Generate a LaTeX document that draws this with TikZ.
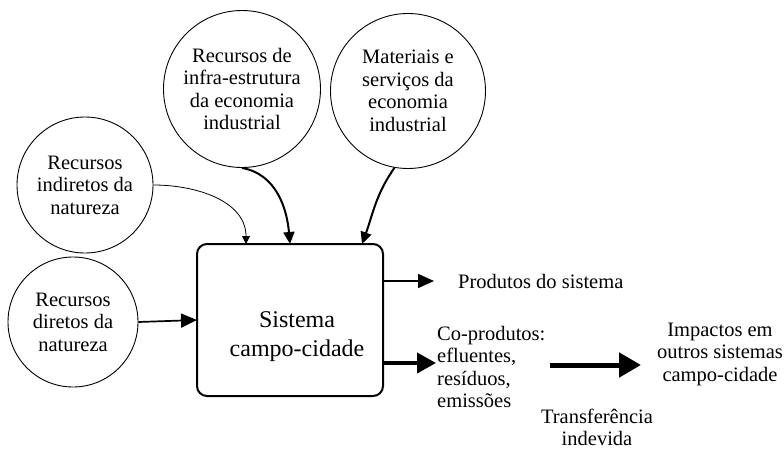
\documentclass[tikz,border=0pt]{standalone}
\usepackage{fontspec}
\setmainfont{Liberation Serif}
\usetikzlibrary{arrows.meta}
\begin{document}
\begin{tikzpicture}[x=1pt,y=-1pt,
  txt/.style={font=\fontsize{20.5}{22.5}\selectfont, align=center, inner sep=0pt},
  res/.style={circle, draw, line width=0.9pt, txt},
  thinarr/.style={line width=0.8pt, -{Triangle[length=8pt,width=8pt]}},
  medarr/.style={line width=2pt, -{Triangle[length=12pt,width=11pt]}},
  outarr/.style={line width=1.7pt, -{Triangle[length=16pt,width=14pt]}},
  heavyarr/.style={line width=4pt, -{Triangle[length=19pt,width=20pt]}},
  hugearr/.style={line width=5pt, -{Triangle[length=22pt,width=24pt]}}]
\useasboundingbox (0,0) rectangle (784,450);
\node[res, minimum size=157pt] (c1) at (242,89) {Recursos de\\infra-estrutura\\da economia\\industrial};
\node[res, minimum size=155pt] (c2) at (408,91) {Materiais e\\serviços da\\economia\\industrial};
\node[res, minimum size=136pt] (c3) at (85,185) {Recursos\\indiretos da\\natureza};
\node[res, minimum size=130pt] (c4) at (73,322) {Recursos\\diretos da\\natureza};
\node[draw, line width=2pt, rounded corners=10pt, minimum width=186pt, minimum height=152pt, inner sep=0pt] (sys) at (290,320) {};
\node[font=\fontsize{24}{29}\selectfont, align=center, inner sep=0pt] (syst) at (297,337) {Sistema\\campo-cidade};
\coordinate (in1) at (246,244);
\coordinate (in2) at (290,244);
\coordinate (in3) at (362,244);
\coordinate (in4) at (197,320);
\draw[thinarr] (c3.east) to[out=0,in=90] (in1);
\draw[medarr] (c1.south) to[out=-10,in=95] (in2);
\draw[medarr] (c2.-100) to[out=-125,in=70] (in3);
\draw[outarr] (c4.east) -- (in4);
\node[txt, anchor=west] (prod) at (458,281) {Produtos do sistema};
\node[txt, anchor=west, align=left] (cop) at (437,367) {Co-produtos:\\efluentes,\\resíduos,\\emissões};
\node[txt] (imp) at (720,354) {Impactos em\\outros sistemas\\campo-cidade};
\node[txt, font=\fontsize{20.5}{22}\selectfont] (trl) at (597,427) {Transferência\\indevida};
\coordinate (o1) at (383,281);
\coordinate (o1e) at (434,281);
\coordinate (o2) at (383,363);
\coordinate (o2e) at (436,363);
\coordinate (t1) at (550,365);
\coordinate (t2) at (641,365);
\draw[outarr] (o1) -- (o1e);
\draw[heavyarr] (o2) -- (o2e);
\draw[hugearr] (t1) -- (t2);
\end{tikzpicture}
\end{document}
